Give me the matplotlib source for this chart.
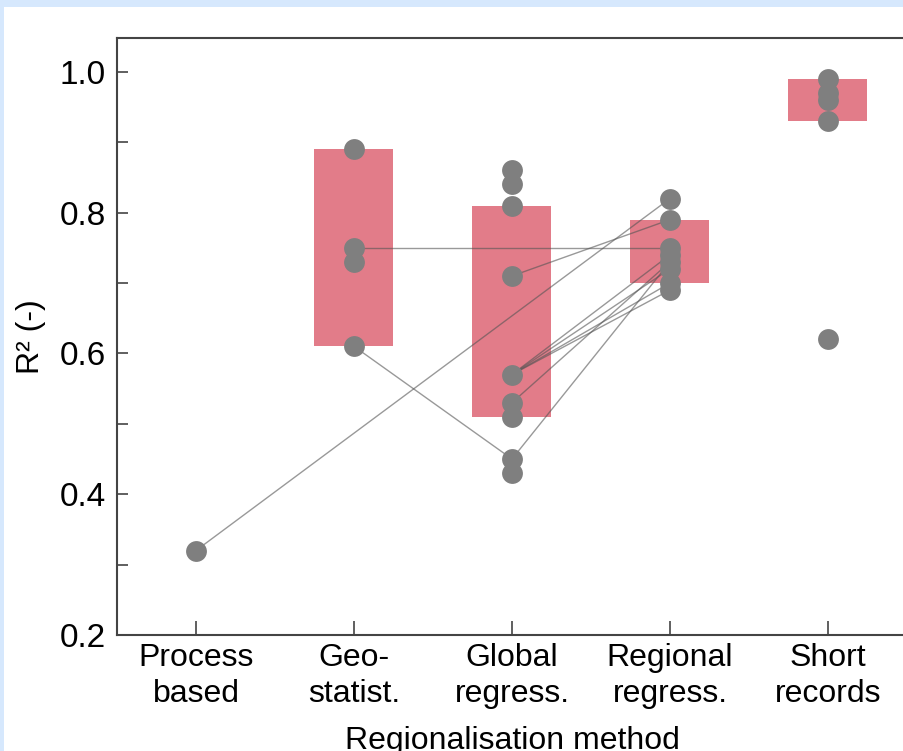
import numpy as np
import matplotlib.pyplot as plt
from matplotlib.patches import Rectangle
from matplotlib.ticker import MultipleLocator

plt.rcParams['font.family'] = ['Liberation Sans', 'DejaVu Sans']

# Categories and data
methods = ['Process\nbased', 'Geo-\nstatist.', 'Global\nregress.', 'Regional\nregress.', 'Short\nrecords']

process_pts = [0.32]
geo_pts = [0.89, 0.75, 0.73, 0.61]
global_pts = [0.86, 0.84, 0.81, 0.71, 0.57, 0.53, 0.51, 0.45, 0.43]
regional_pts = [0.82, 0.79, 0.75, 0.74, 0.73, 0.72, 0.70, 0.69]
short_pts = [0.99, 0.97, 0.96, 0.93, 0.62]

# Range boxes (low, high) per method, None where no box
box_low = [None, 0.61, 0.51, 0.70, 0.93]
box_high = [None, 0.89, 0.81, 0.79, 0.99]

# Connections between methods: (method_a, value_a, method_b, value_b)
links = [
    (0, 0.32, 3, 0.82),
    (1, 0.75, 3, 0.75),
    (1, 0.61, 2, 0.45),
    (2, 0.71, 3, 0.79),
    (2, 0.57, 3, 0.74),
    (2, 0.57, 3, 0.72),
    (2, 0.57, 3, 0.70),
    (2, 0.57, 3, 0.69),
    (2, 0.53, 3, 0.73),
    (2, 0.45, 3, 0.73),
]

fig = plt.figure(figsize=(9.04, 7.51), dpi=100, facecolor='#d6e8fd')
fig.patches.append(Rectangle((4 / 904, 0), 1, 1 - 7 / 751, transform=fig.transFigure,
                             facecolor='white', edgecolor='none', zorder=-10))
ax = fig.add_axes([117 / 904, 116 / 751, 790 / 904, 597 / 751])
ax.set_facecolor('white')

# boxes
for i, (lo, hi) in enumerate(zip(box_low, box_high)):
    if lo is None:
        continue
    ax.bar(i, hi - lo, bottom=lo, width=0.5, color='#e27c89', zorder=1)

# links
for a, va, b, vb in links:
    ax.plot([a, b], [va, vb], color='#555555', lw=1.0, alpha=0.6, zorder=2)

# points
groups = [process_pts, geo_pts, global_pts, regional_pts, short_pts]
for i, pts in enumerate(groups):
    ax.plot([i] * len(pts), pts, 'o', ms=15, color='#7f7f7f', mec='none', zorder=3)

ax.set_xlim(-0.5, 4.5)
ax.set_ylim(0.2, 1.048)
ax.set_xticks(range(len(methods)))
ax.set_xticklabels(methods, fontsize=23, linespacing=1.25)
ax.set_yticks([0.2, 0.4, 0.6, 0.8, 1.0])
ax.set_yticklabels(['0.2', '0.4', '0.6', '0.8', '1.0'], fontsize=24)
ax.yaxis.set_minor_locator(MultipleLocator(0.1))
ax.tick_params(axis='both', which='both', direction='in', color='#444444', width=1.2)
ax.tick_params(axis='y', which='both', length=8, pad=8)
ax.tick_params(axis='x', length=10, pad=6)
ax.spines['right'].set_visible(False)
for s in ['left', 'top', 'bottom']:
    ax.spines[s].set_color('#444444')
    ax.spines[s].set_linewidth(1.5)

ax.set_ylabel('R² (-)', fontsize=23, labelpad=10)
ax.set_xlabel('Regionalisation method', fontsize=23, labelpad=12)

fig.savefig('out.png', dpi=100, facecolor=fig.get_facecolor())
